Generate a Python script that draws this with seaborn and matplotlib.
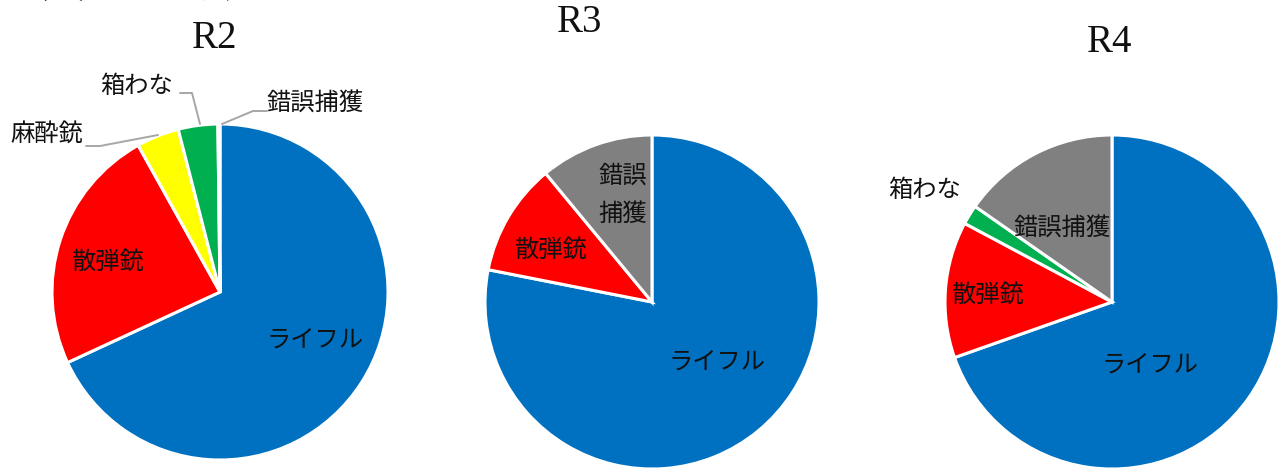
import matplotlib
matplotlib.use('Agg')
import matplotlib.pyplot as plt
import seaborn as sns

# ── Data ─────────────────────────────────────────────────────
r2_labels = ['ライフル', '散弾銃', '麻酔銃', '箱わな', '錯誤捕獲']
r2_values = [68.1, 23.8, 4.1, 3.8, 0.2]

r3_labels = ['ライフル', '散弾銃', '錯誤捕獲']
r3_values = [78.1, 10.9, 11.0]

r4_labels = ['ライフル', '散弾銃', '箱わな', '錯誤捕獲']
r4_values = [69.6, 13.2, 1.9, 15.3]

palette = {'ライフル': '#0070C0', '散弾銃': '#FF0000', '麻酔銃': '#FFFF00',
           '箱わな': '#00B050', '錯誤捕獲': '#808080'}

sns.set_theme(style='white')
plt.rcParams['font.family'] = ['Noto Sans CJK JP', 'DejaVu Sans']

W, H = 1287, 468
fig = plt.figure(figsize=(W / 100, H / 100), dpi=100)

JP = dict(fontsize=17.5, color='#111111', family=['Noto Sans CJK JP'])
LEADER = dict(color='#A6A6A6', lw=1.4, clip_on=False)


def pie_axes(cx, cy, r):
    # pixel centre / radius -> square axes in figure coords
    return fig.add_axes([(cx - r) / W, (H - cy - r) / H, 2 * r / W, 2 * r / H])


def draw_pie(ax, labels, values):
    ax.pie(values, colors=[palette[l] for l in labels], startangle=90,
           counterclock=False,
           wedgeprops=dict(edgecolor='white', linewidth=2.2))
    ax.set_xlim(-1, 1)
    ax.set_ylim(-1, 1)
    ax.set_axis_off()


def px(cx, cy, r, x, y):
    return (x - cx) / r, (cy - y) / r


# ── R2 ───────────────────────────────────────────────────────
c2 = (220, 292, 168)
ax2 = pie_axes(*c2)
draw_pie(ax2, r2_labels, r2_values)
ax2.text(*px(*c2, 315, 340), 'ライフル', ha='center', va='center', **JP)
ax2.text(*px(*c2, 107, 262), '散弾銃', ha='center', va='center', **JP)
ax2.text(*px(*c2, 47, 134), '麻酔銃', ha='center', va='center', clip_on=False, **JP)
ax2.text(*px(*c2, 137, 86), '箱わな', ha='center', va='center', clip_on=False, **JP)
ax2.text(*px(*c2, 315, 103), '錯誤捕獲', ha='center', va='center', clip_on=False, **JP)
for pts in [[(86, 146), (100, 146), (158, 135)],
            [(180, 93), (192, 93), (200, 124)],
            [(267, 111), (253, 111), (222, 124)]]:
    xy = [px(*c2, x, y) for x, y in pts]
    ax2.plot([p[0] for p in xy], [p[1] for p in xy], **LEADER)

# ── R3 ───────────────────────────────────────────────────────
c3 = (652, 302, 167)
ax3 = pie_axes(*c3)
draw_pie(ax3, r3_labels, r3_values)
ax3.text(*px(*c3, 717, 362), 'ライフル', ha='center', va='center', **JP)
ax3.text(*px(*c3, 550, 250), '散弾銃', ha='center', va='center', **JP)
ax3.text(*px(*c3, 623, 195), '錯誤\n捕獲', ha='center', va='center',
         linespacing=1.6, **JP)

# ── R4 ───────────────────────────────────────────────────────
c4 = (1112, 302, 167)
ax4 = pie_axes(*c4)
draw_pie(ax4, r4_labels, r4_values)
ax4.text(*px(*c4, 1150, 365), 'ライフル', ha='center', va='center', **JP)
ax4.text(*px(*c4, 987, 295), '散弾銃', ha='center', va='center', **JP)
ax4.text(*px(*c4, 925, 190), '箱わな', ha='center', va='center', clip_on=False, **JP)
ax4.text(*px(*c4, 1062, 228), '錯誤捕獲', ha='center', va='center', **JP)

# ── Titles ───────────────────────────────────────────────────
TITLE = dict(fontsize=28, color='#111111', family=['Liberation Serif'],
             ha='center', va='center')
fig.text(215 / W, 1 - 38 / H, 'R2', **TITLE)
fig.text(580 / W, 1 - 22 / H, 'R3', **TITLE)
fig.text(1110 / W, 1 - 42 / H, 'R4', **TITLE)

# section heading, cut off at the top edge as in the source
fig.text(18 / W, 1 - 5 / H, '（２）捕獲方法', fontsize=22, color='#111111',
         family=['Noto Sans CJK JP'], ha='left', va='bottom')

plt.savefig('out.png', dpi=100)
plt.close()
